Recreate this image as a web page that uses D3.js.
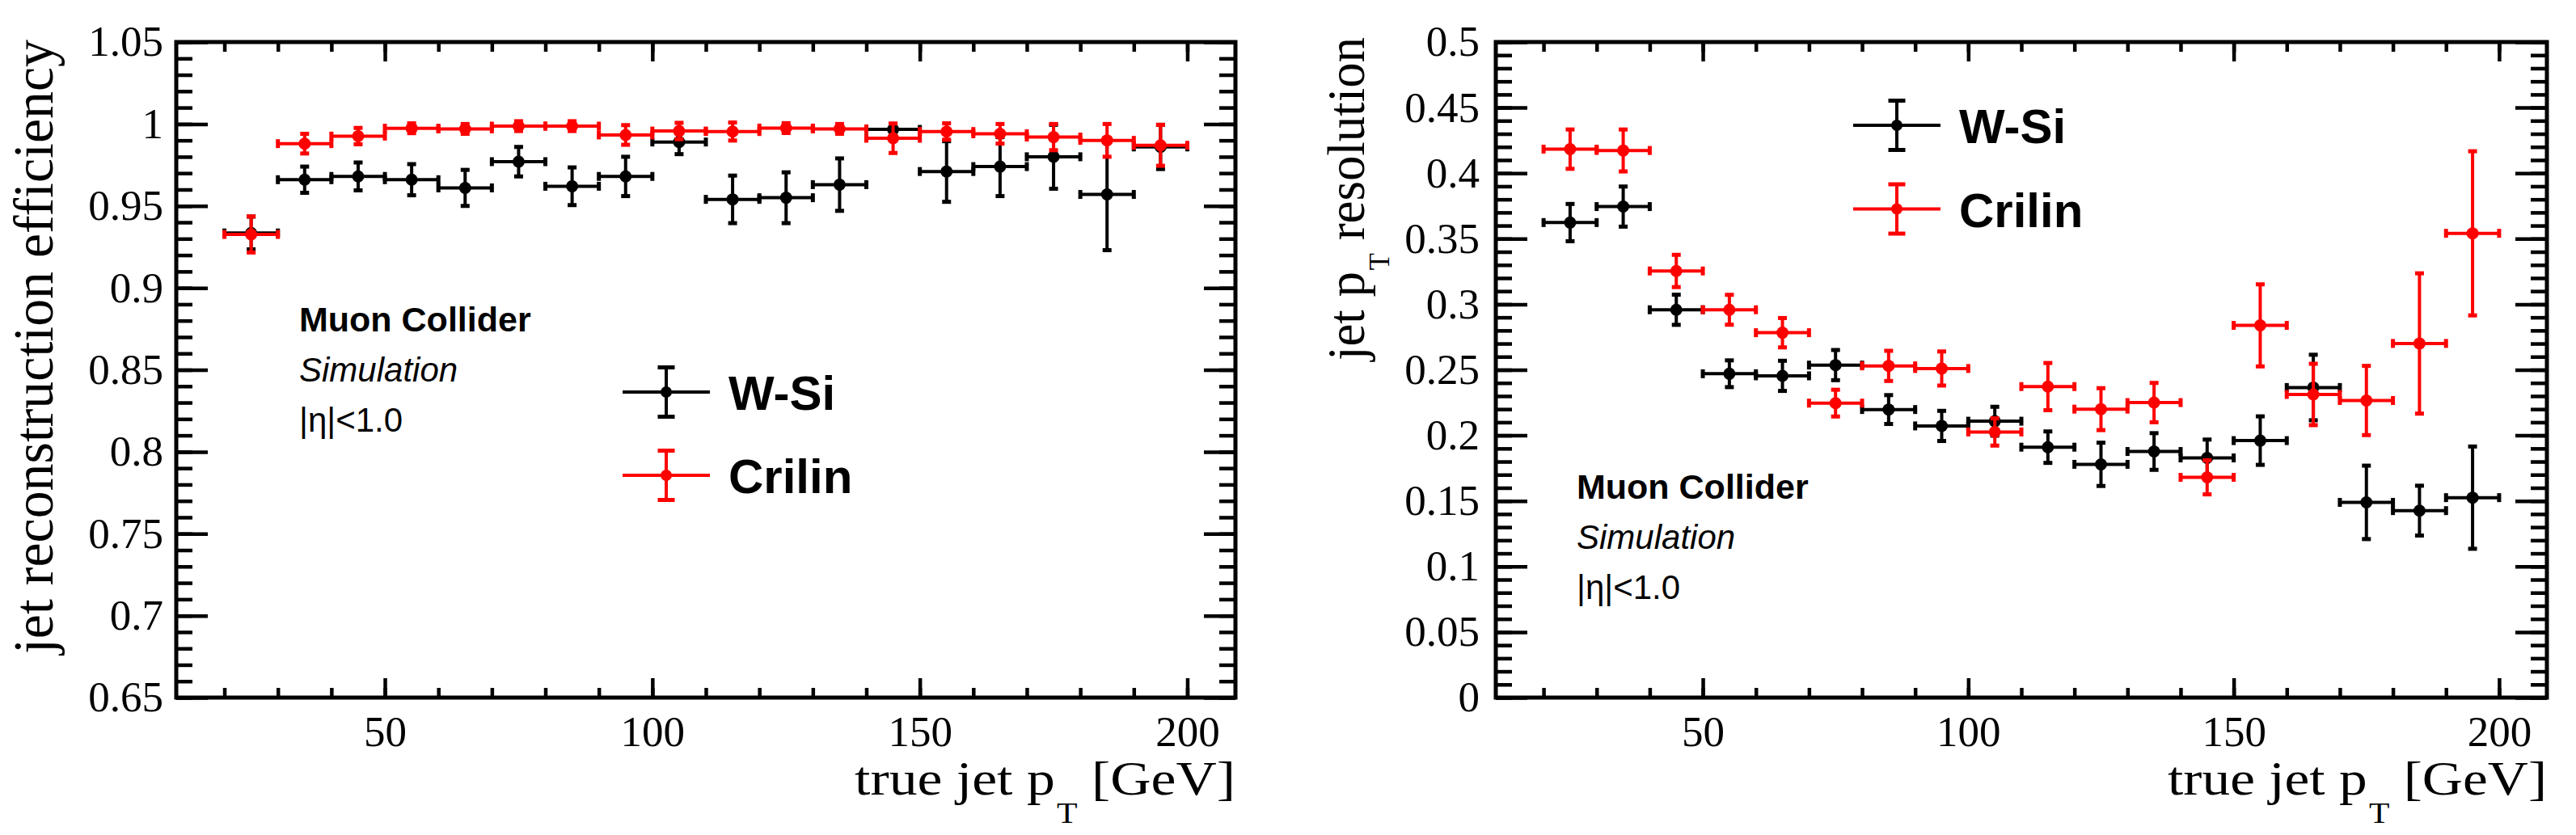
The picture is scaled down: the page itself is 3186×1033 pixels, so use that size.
<!DOCTYPE html>
<html>
<head>
<meta charset="utf-8">
<script src="https://cdn.jsdelivr.net/npm/d3@7"></script>
<style>
  body { margin: 0; background: #fff; }
  svg { display: block; background: #fff; }
</style>
</head>
<body>
<svg id="drawing_region"></svg>
<script>
// bins of true jet pT, 10 GeV wide
const binCenters = [25, 35, 45, 55, 65, 75, 85, 95, 105, 115, 125, 135, 145, 155, 165, 175, 185, 195];
const binHalfWidth = 5;
const xTicks = [50, 100, 150, 200];

// jet reconstruction efficiency
const effWSi      = [0.9335, 0.966, 0.968, 0.966, 0.961, 0.977, 0.962, 0.968, 0.989, 0.954, 0.955, 0.963, 0.9967, 0.971, 0.974, 0.980, 0.957, 0.986];
const effWSiErr   = [0.010, 0.008, 0.0085, 0.0095, 0.011, 0.009, 0.0115, 0.012, 0.0074, 0.0145, 0.0155, 0.016, 0.003, 0.0185, 0.018, 0.0195, 0.034, 0.0135];
const effCrilin    = [0.9326, 0.988, 0.9926, 0.9974, 0.997, 0.9987, 0.9987, 0.9933, 0.9957, 0.9954, 0.9975, 0.997, 0.9913, 0.9954, 0.994, 0.992, 0.990, 0.987];
const effCrilinErr = [0.011, 0.006, 0.005, 0.003, 0.003, 0.003, 0.003, 0.006, 0.005, 0.0055, 0.003, 0.003, 0.009, 0.005, 0.006, 0.008, 0.010, 0.0125];
const effTicks = [0.65, 0.7, 0.75, 0.8, 0.85, 0.9, 0.95, 1, 1.05];

// jet pT resolution
const resWSi      = [0.3623, 0.3745, 0.2958, 0.247, 0.2454, 0.2536, 0.2197, 0.2072, 0.2108, 0.191, 0.1779, 0.1877, 0.1828, 0.196, 0.2365, 0.1489, 0.1426, 0.1525];
const resWSiErr   = [0.0142, 0.0153, 0.0115, 0.0102, 0.0115, 0.0115, 0.011, 0.0115, 0.011, 0.012, 0.0165, 0.014, 0.014, 0.0185, 0.025, 0.028, 0.019, 0.039];
const resCrilin    = [0.4183, 0.4173, 0.3254, 0.2958, 0.2783, 0.2246, 0.253, 0.251, 0.2026, 0.2372, 0.22, 0.225, 0.168, 0.2839, 0.2312, 0.2266, 0.2701, 0.3541];
const resCrilinErr = [0.015, 0.016, 0.0123, 0.0114, 0.0112, 0.0102, 0.0115, 0.013, 0.0104, 0.018, 0.016, 0.015, 0.013, 0.0313, 0.0234, 0.0264, 0.0535, 0.0626];
const resTicks = [0, 0.05, 0.1, 0.15, 0.2, 0.25, 0.3, 0.35, 0.4, 0.45, 0.5];

const seriesNames = ["W-Si", "Crilin"];
const seriesColors = ["#000000", "#ff0000"];
const infoLines = ["Muon Collider", "Simulation", "|\u03b7|<1.0"];

const makePoints = (vals, errs) => binCenters.map((x, i) => ({x: x, y: vals[i], e: errs[i]}));

const svg = d3.select('#drawing_region')
    .attr('width', 3186)
    .attr('height', 1033);

class ErrorPlot {
    constructor(config, series) {
        this.config = config;
        this.series = series;
        this.init();
    }

    init() {
        let self = this;
        const c = self.config;

        self.chart = svg.append('g');

        self.xscale = d3.scaleLinear()
            .domain([11, 209])
            .range([c.left, c.right]);

        self.yscale = d3.scaleLinear()
            .domain(c.yDomain)
            .range([c.bottom, c.top]);
    }

    render() {
        let self = this;
        const c = self.config;
        const xs = self.xscale, ys = self.yscale;

        // axes: major + minor ticks, mirrored on top / right
        const styleAxis = g => {
            g.select('.domain').remove();
            g.selectAll('line').attr('stroke', '#000').attr('stroke-width', 4.5);
            g.selectAll('text')
                .attr('font-family', '"Liberation Serif", "Times New Roman", serif')
                .attr('font-size', 53)
                .attr('fill', '#000');
        };

        self.chart.append('g')
            .attr('transform', `translate(0, ${c.bottom})`)
            .call(d3.axisBottom(xs).tickValues(xTicks).tickSize(-24).tickPadding(22).tickFormat(d3.format('d')))
            .call(styleAxis);
        self.chart.append('g')
            .attr('transform', `translate(0, ${c.bottom})`)
            .call(d3.axisBottom(xs).ticks(20).tickSize(-12).tickFormat(''))
            .call(styleAxis);
        self.chart.append('g')
            .attr('transform', `translate(0, ${c.top})`)
            .call(d3.axisTop(xs).tickValues(xTicks).tickSize(-24).tickFormat(''))
            .call(styleAxis);
        self.chart.append('g')
            .attr('transform', `translate(0, ${c.top})`)
            .call(d3.axisTop(xs).ticks(20).tickSize(-12).tickFormat(''))
            .call(styleAxis);

        self.chart.append('g')
            .attr('transform', `translate(${c.left}, 0)`)
            .call(d3.axisLeft(ys).tickValues(c.yTicks).tickSize(-39).tickPadding(c.yLabelPad).tickFormat(d => String(d)))
            .call(styleAxis);
        self.chart.append('g')
            .attr('transform', `translate(${c.left}, 0)`)
            .call(d3.axisLeft(ys).ticks(c.minorCount).tickSize(-20).tickFormat(''))
            .call(styleAxis);
        self.chart.append('g')
            .attr('transform', `translate(${c.right}, 0)`)
            .call(d3.axisRight(ys).tickValues(c.yTicks).tickSize(-39).tickFormat(''))
            .call(styleAxis);
        self.chart.append('g')
            .attr('transform', `translate(${c.right}, 0)`)
            .call(d3.axisRight(ys).ticks(c.minorCount).tickSize(-20).tickFormat(''))
            .call(styleAxis);

        // frame
        self.chart.append('rect')
            .attr('x', c.left)
            .attr('y', c.top)
            .attr('width', c.right - c.left)
            .attr('height', c.bottom - c.top)
            .attr('fill', 'none')
            .attr('stroke', '#000')
            .attr('stroke-width', 5);

        // data points with error bars
        self.series.forEach(s => {
            const g = self.chart.append('g')
                .attr('fill', s.color)
                .attr('stroke', s.color);
            const pts = g.selectAll('g')
                .data(s.points)
                .enter()
                .append('g');

            pts.append('line')
                .attr('x1', d => xs(d.x - binHalfWidth))
                .attr('x2', d => xs(d.x + binHalfWidth))
                .attr('y1', d => ys(d.y))
                .attr('y2', d => ys(d.y))
                .attr('stroke-width', 4);
            pts.append('line')
                .attr('x1', d => xs(d.x))
                .attr('x2', d => xs(d.x))
                .attr('y1', d => ys(d.y - d.e))
                .attr('y2', d => ys(d.y + d.e))
                .attr('stroke-width', 4);
            [-1, 1].forEach(k => {
                pts.append('rect')
                    .attr('x', d => xs(d.x + k * binHalfWidth) - 2.5)
                    .attr('y', d => ys(d.y) - 5.5)
                    .attr('width', 5)
                    .attr('height', 11)
                    .attr('stroke', 'none');
                pts.append('rect')
                    .attr('x', d => xs(d.x) - 5.5)
                    .attr('y', d => ys(d.y + k * d.e) - 2.5)
                    .attr('width', 11)
                    .attr('height', 5)
                    .attr('stroke', 'none');
            });
            pts.append('circle')
                .attr('cx', d => xs(d.x))
                .attr('cy', d => ys(d.y))
                .attr('r', 7.5)
                .attr('stroke', 'none');
        });

        // legend
        self.series.forEach((s, i) => {
            const cx = c.legend.x, cy = c.legend.y + i * c.legend.dy;
            const g = self.chart.append('g')
                .attr('fill', s.color)
                .attr('stroke', s.color);
            g.append('line').attr('x1', cx - 54).attr('x2', cx + 54).attr('y1', cy).attr('y2', cy).attr('stroke-width', 4);
            g.append('line').attr('x1', cx).attr('x2', cx).attr('y1', cy - 31).attr('y2', cy + 31).attr('stroke-width', 4);
            g.append('rect').attr('x', cx - 10.5).attr('y', cy - 33).attr('width', 21).attr('height', 5).attr('stroke', 'none');
            g.append('rect').attr('x', cx - 10.5).attr('y', cy + 28).attr('width', 21).attr('height', 5).attr('stroke', 'none');
            g.append('circle').attr('cx', cx).attr('cy', cy).attr('r', 7).attr('stroke', 'none');
            self.chart.append('text')
                .attr('x', cx + 77)
                .attr('y', cy + 22)
                .attr('font-family', '"Liberation Sans", Arial, sans-serif')
                .attr('font-weight', 'bold')
                .attr('font-size', 60)
                .text(s.name);
        });

        // info text
        const info = [
            {weight: 'bold', style: 'normal', dy: 0},
            {weight: 'normal', style: 'italic', dy: 62},
            {weight: 'normal', style: 'normal', dy: 124}
        ];
        info.forEach((f, i) => {
            self.chart.append('text')
                .attr('x', c.info.x)
                .attr('y', c.info.y + f.dy)
                .attr('font-family', '"Liberation Sans", Arial, sans-serif')
                .attr('font-weight', f.weight)
                .attr('font-style', f.style)
                .attr('font-size', i === 0 ? 43 : 42)
                .text(infoLines[i]);
        });

        // axis titles, stretched to the measured length
        const xt = self.chart.append('text')
            .attr('font-family', '"Liberation Serif", "Times New Roman", serif')
            .attr('font-size', 60)
            .attr('text-anchor', 'end');
        xt.append('tspan').text('true jet p');
        xt.append('tspan').attr('font-size', 36).attr('dy', 35).attr('dx', 2).text('T');
        xt.append('tspan').attr('dy', -35).text('\u00a0[GeV]');
        const xw = xt.node().getBBox().width;
        xt.attr('transform', `translate(${c.right}, 983) scale(${c.xTitleLen / xw}, 1)`);

        const yt = self.chart.append('text')
            .attr('font-family', '"Liberation Serif", "Times New Roman", serif')
            .attr('font-size', c.yTitle.size)
            .attr('text-anchor', 'end');
        c.yTitle.parts.forEach(p => {
            const t = yt.append('tspan').text(p.text);
            if (p.sub) t.attr('font-size', c.yTitle.size * 0.55).attr('dy', p.sub).attr('dx', 2);
            if (p.back) t.attr('dy', p.back);
        });
        const yw = yt.node().getBBox().width;
        yt.attr('transform', `translate(${c.yTitle.x}, ${c.yTitle.end}) rotate(-90) scale(${c.yTitle.len / yw}, 1)`);
    }
}

const effPlot = new ErrorPlot({
    left: 218, right: 1528, top: 52, bottom: 863,
    yDomain: [0.65, 1.05], yTicks: effTicks, minorCount: 40, yLabelPad: 16,
    xTitleLen: 471,
    yTitle: {x: 65, end: 49, len: 763, size: 70, parts: [{text: 'jet reconstruction efficiency'}]},
    legend: {x: 824, y: 485, dy: 103},
    info: {x: 370, y: 410}
}, [
    {name: seriesNames[0], color: seriesColors[0], points: makePoints(effWSi, effWSiErr)},
    {name: seriesNames[1], color: seriesColors[1], points: makePoints(effCrilin, effCrilinErr)}
]);
effPlot.render();

const resPlot = new ErrorPlot({
    left: 1850, right: 3150, top: 52, bottom: 863,
    yDomain: [0, 0.5], yTicks: resTicks, minorCount: 50, yLabelPad: 20,
    xTitleLen: 469,
    yTitle: {x: 1687, end: 46, len: 402, size: 66, parts: [
        {text: 'jet p'}, {text: 'T', sub: 31}, {text: '\u00a0resolution', back: -31}
    ]},
    legend: {x: 2346, y: 155, dy: 103.5},
    info: {x: 1950, y: 617}
}, [
    {name: seriesNames[0], color: seriesColors[0], points: makePoints(resWSi, resWSiErr)},
    {name: seriesNames[1], color: seriesColors[1], points: makePoints(resCrilin, resCrilinErr)}
]);
resPlot.render();
</script>
</body>
</html>
